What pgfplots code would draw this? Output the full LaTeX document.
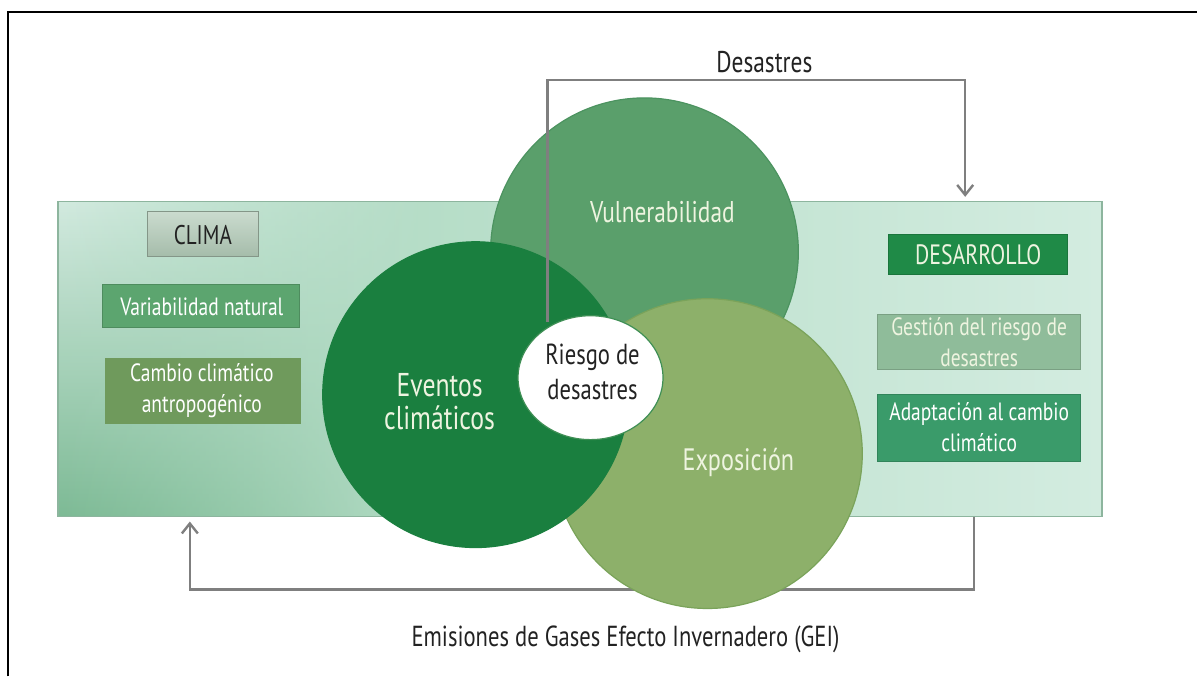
\documentclass[border=0pt]{standalone}
\usepackage{pgfplots}
\pgfplotsset{compat=1.18}
\usepackage{fontspec}
\setmainfont[FakeStretch=0.78]{PT Sans}
\usetikzlibrary{arrows.meta,fadings}
\tikzfading[name=fadeR, left color=transparent!0, right color=transparent!100]
\pgfdeclarelayer{lineL}
\pgfdeclarelayer{ellL}
\pgfdeclarelayer{textL}
\pgfplotsset{layers/mine/.define layer set={axis background,axis grid,axis ticks,axis lines,axis tick labels,pre main,main,lineL,ellL,textL,axis descriptions,axis foreground}{}}
\definecolor{bgL}{HTML}{A6D5BA}
\definecolor{bgM}{HTML}{C4E4D3}
\definecolor{bgR}{HTML}{D3ECE0}
\definecolor{bgTop}{HTML}{D2EADF}
\definecolor{bgBot}{HTML}{7DBA95}
\definecolor{vul}{HTML}{5A9F6B}
\definecolor{vulE}{HTML}{4C9360}
\definecolor{eve}{HTML}{1A7F3F}
\definecolor{exp}{HTML}{8DB06A}
\definecolor{expE}{HTML}{7AA35A}
\definecolor{ring}{HTML}{3F8F55}
\definecolor{climaT}{HTML}{CADBCE}
\definecolor{climaB}{HTML}{A5BCAA}
\definecolor{varn}{HTML}{5CA56F}
\definecolor{camb}{HTML}{6F9A5C}
\definecolor{desa}{HTML}{1F8A47}
\definecolor{gest}{HTML}{8FBC9A}
\definecolor{adap}{HTML}{3A9B6A}
\definecolor{lineg}{HTML}{7F7F7F}
\definecolor{cream}{HTML}{EEF4E0}
\definecolor{txt}{HTML}{222222}
\begin{document}
\begin{tikzpicture}
\begin{axis}[
  scale only axis, width=599pt, height=338.5pt,
  xmin=0, xmax=1198, ymin=0, ymax=677, y dir=reverse,
  axis lines=none, ticks=none, clip=false, set layers=mine]
% bounding box
\addplot[draw=none, forget plot] coordinates {(0,0) (1198,677)};
% outer frame
\addplot[black, line width=1pt] coordinates {(8,677) (8,12) (1198,12)};
% green background
\addplot[draw=none, left color=bgL, middle color=bgM, right color=bgR] coordinates {(58,202) (1103,202) (1103,517) (58,517)} -- cycle;
\addplot[draw=none, top color=bgTop, bottom color=bgBot, path fading=fadeR] coordinates {(58,202) (430,202) (430,517) (58,517)} -- cycle;
\addplot[draw=bgL!85!black, line width=0.6pt] coordinates {(58,202) (1103,202) (1103,517) (58,517)} -- cycle;
% left boxes
\addplot[draw=climaB!80!black, line width=0.5pt, top color=climaT, bottom color=climaB] coordinates {(148,212) (259,212) (259,257) (148,257)} -- cycle;
\addplot[draw=varn!85!black, line width=0.5pt, fill=varn] coordinates {(103,285) (300,285) (300,328) (103,328)} -- cycle;
\addplot[draw=none, fill=camb] coordinates {(105,358) (301,358) (301,424) (105,424)} -- cycle;
% right boxes
\addplot[draw=desa!85!black, line width=0.5pt, fill=desa] coordinates {(889,235) (1068,235) (1068,275) (889,275)} -- cycle;
\addplot[draw=gest!85!black, line width=0.5pt, fill=gest] coordinates {(878,315) (1081,315) (1081,370) (878,370)} -- cycle;
\addplot[draw=adap!85!black, line width=0.5pt, fill=adap] coordinates {(878,395) (1081,395) (1081,462) (878,462)} -- cycle;
% circles
\addplot[only marks, mark=*, mark size=77pt, mark options={fill=vul, draw=vulE, line width=0.6pt}] coordinates {(645,252)};
\addplot[only marks, mark=*, mark size=77.5pt, mark options={fill=exp, draw=expE, line width=0.6pt}] coordinates {(708,454)};
\addplot[only marks, mark=*, mark size=76.5pt, mark options={fill=eve, draw=eve, line width=0.6pt}] coordinates {(476,395)};
% Desastres connector
\addplot[on layer=lineL, lineg, line width=1.2pt, -{Straight Barb[length=5pt,width=8pt]}] coordinates {(548,322) (548,80) (966,80) (966,197)};
% white ellipse
\addplot[on layer=ellL, only marks, mark=*, mark size=31pt, mark options={fill=white, draw=ring, line width=0.6pt, xscale=1.17}] coordinates {(591,378)};
% GEI connector
\addplot[lineg, line width=1.2pt, -{Straight Barb[length=5pt,width=8pt]}] coordinates {(975,517) (975,590) (190,590) (190,522)};
% texts
\begin{pgfonlayer}{textL}
\node[txt, font=\fontsize{15}{17}\selectfont] at (axis cs:765,62) {Desastres};
\node[cream, font=\fontsize{15}{17}\selectfont] at (axis cs:663,212) {Vulnerabilidad};
\node[cream, font=\fontsize{16.5}{18}\selectfont, align=center] at (axis cs:440,402) {Eventos\\[-1pt]climáticos};
\node[txt, font=\fontsize{14.5}{17.5}\selectfont, align=center] at (axis cs:593,372) {Riesgo de\\desastres};
\node[cream, font=\fontsize{15.5}{17}\selectfont] at (axis cs:739,463) {Exposición};
\node[txt, font=\fontsize{13.5}{15}\selectfont] at (axis cs:203,235) {CLIMA};
\node[white, font=\fontsize{12.5}{14}\selectfont] at (axis cs:202,307) {Variabilidad natural};
\node[white, font=\fontsize{12.5}{15.5}\selectfont, align=center] at (axis cs:202,391) {Cambio climático\\antropogénico};
\node[cream, font=\fontsize{14}{16}\selectfont] at (axis cs:979,255) {DESARROLLO};
\node[cream, font=\fontsize{12.5}{15.5}\selectfont, align=center] at (axis cs:980,342) {Gestión del riesgo de\\desastres};
\node[white, font=\fontsize{12.5}{15.5}\selectfont, align=center] at (axis cs:980,428) {Adaptación al cambio\\climático};
\node[txt, font=\fontsize{14.5}{16}\selectfont] at (axis cs:626,640) {Emisiones de Gases Efecto Invernadero (GEI)};
\end{pgfonlayer}
\end{axis}
\end{tikzpicture}
\end{document}
